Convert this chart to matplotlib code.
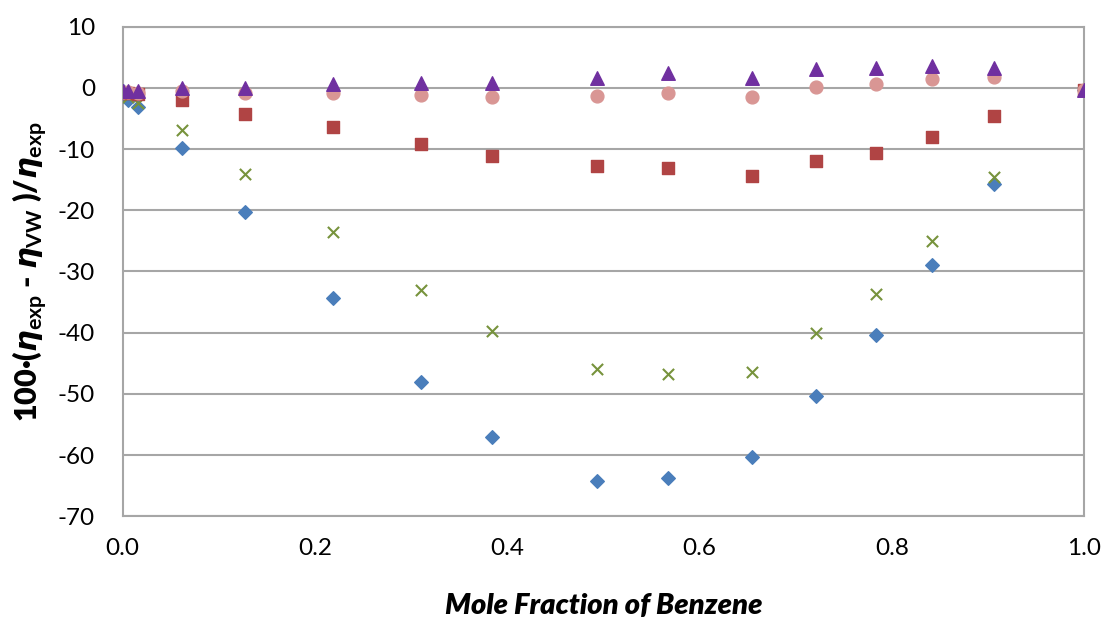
import matplotlib
matplotlib.use('Agg')
import matplotlib.pyplot as plt

plt.rcParams['font.family'] = ['Lato', 'DejaVu Sans']
plt.rcParams['axes.unicode_minus'] = False
plt.rcParams['mathtext.fontset'] = 'custom'
plt.rcParams['mathtext.it'] = 'DejaVu Sans:bold:italic'
plt.rcParams['mathtext.rm'] = 'Lato:bold'
plt.rcParams['mathtext.bf'] = 'Lato:bold'

# Mole fraction of benzene
x = [0.0, 0.006, 0.016, 0.062, 0.127, 0.2185, 0.310, 0.384, 0.493,
     0.567, 0.655, 0.721, 0.784, 0.842, 0.906, 1.0]

# Deviation series (%)
blue_diamond = [-0.5, -2.0, -3.2, -9.8, -20.3, -34.4, -48.0, -57.1, -64.2,
                -63.8, -60.4, -50.3, -40.4, -29.0, -15.7, -0.3]
green_x = [-0.5, -1.5, -2.5, -6.9, -14.1, -23.6, -33.0, -39.8, -45.9,
           -46.8, -46.5, -40.0, -33.7, -25.1, -14.6, -0.3]
red_square = [-0.8, -0.8, -1.0, -2.0, -4.3, -6.4, -9.1, -11.2, -12.8,
              -13.1, -14.4, -12.0, -10.6, -8.0, -4.6, -0.3]
pink_circle = [-0.7, -0.7, -0.8, -0.6, -0.9, -0.8, -1.2, -1.5, -1.3,
               -0.8, -1.5, 0.2, 0.6, 1.5, 1.8, -0.3]
purple_triangle = [-0.5, -0.5, -0.5, 0.0, -0.1, 0.6, 0.8, 0.8, 1.6,
                   2.4, 1.6, 3.1, 3.2, 3.6, 3.2, -0.3]

fig = plt.figure(figsize=(11.05, 6.19), dpi=100)
ax = fig.add_axes([0.111, 0.166, 0.870, 0.791])

ax.scatter(x, blue_diamond, marker='D', s=48, color='#4A7EBB', zorder=3)
ax.scatter(x, green_x, marker='x', s=65, color='#77933C', linewidths=1.5, zorder=3)
ax.scatter(x, red_square, marker='s', s=80, color='#B04444', zorder=3)
ax.scatter(x, pink_circle, marker='o', s=85, color='#D99694', zorder=3)
ax.scatter(x, purple_triangle, marker='^', s=95, color='#7030A0', zorder=4)

ax.set_xlim(0, 1.0)
ax.set_ylim(-70, 10)
ax.set_xticks([0.0, 0.2, 0.4, 0.6, 0.8, 1.0])
ax.set_xticklabels(['0.0', '0.2', '0.4', '0.6', '0.8', '1.0'])
ax.set_yticks(range(-70, 11, 10))
ax.tick_params(axis='both', length=0, labelsize=17.5)
ax.tick_params(axis='y', pad=20)
ax.tick_params(axis='x', pad=16)

ax.grid(axis='y', color='#A6A6A6', linewidth=1.5)
ax.set_axisbelow(True)
for s in ax.spines.values():
    s.set_color('#A6A6A6')
    s.set_linewidth(1.5)

ax.set_xlabel('Mole Fraction of Benzene', fontsize=21, fontweight='heavy',
              style='italic', labelpad=24)
ax.set_ylabel(r'100·($\eta_{\mathrm{exp}}$ - $\eta_{\mathrm{VW}}$ )/$\eta_{\mathrm{exp}}$',
              fontsize=22, fontweight='heavy', labelpad=6)

fig.savefig('out.png', dpi=100)
